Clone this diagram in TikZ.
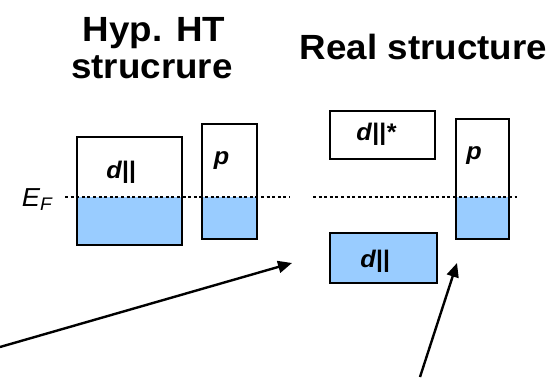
\documentclass[tikz,border=0pt]{standalone}
\usepackage{fontspec}
\usepackage{xcolor}
\usetikzlibrary{arrows.meta,backgrounds}

\newfontfamily\headfont[FakeStretch=1.05]{Liberation Sans}
\definecolor{occblue}{HTML}{99CCFF}

\tikzset{
  band/.style={draw, line width=1.6pt, inner sep=0pt},
  occ/.style={fill=occblue},
  fermi/.style={line width=2pt, dash pattern=on 3pt off 2.6pt},
  title/.style={anchor=base, inner sep=0pt, font=\headfont\bfseries\fontsize{35}{38}\selectfont},
  orb/.style={anchor=base, inner sep=0pt, font=\headfont\bfseries\itshape\fontsize{24}{26}\selectfont},
  hint/.style={line width=2.4pt, -{Triangle[length=14pt,width=12pt]}}
}

\begin{document}
\begin{tikzpicture}[x=1pt,y=-1pt]
				\useasboundingbox (0,0) rectangle (553,377);
				
				% headings
				\node[title] (hyp1) at (154,42) {Hyp. HT};
				\node[title] (hyp2) at (152,79) {strucrure};
				\node[title] (real) at (423.5,60) {Real structure};
				
				% bands: hypothetical HT picture
				\node[band, minimum width=105pt, minimum height=108pt] (hd) at (129.5,191) {};
				\node[band, minimum width=55pt, minimum height=115pt] (hp) at (229.5,181.5) {};
				
				% bands: real picture
				\node[band, minimum width=105pt, minimum height=48pt] (rdstar) at (382.5,135) {};
				\node[band, minimum width=53pt, minimum height=120pt] (rp) at (482.5,179) {};
				\node[band, occ, minimum width=107pt, minimum height=50pt] (rd) at (383.5,258) {};
				
				% Fermi level
				\coordinate (efa) at (65,197);
				\coordinate (efb) at (290,197);
				\coordinate (efc) at (313,197);
				\coordinate (efd) at (517,197);
				
				% occupied parts below E_F
				\begin{scope}[on background layer]
					\foreach \b in {hd,hp,rp}
					{
						\fill[occ] (\b.south west) rectangle (\b.east |- efa);
					}
				\end{scope}
				
				\draw[fermi] (efa) -- (efb);
				\draw[fermi] (efc) -- (efd);
				\node[inner sep=0pt, font=\headfont\itshape\fontsize{26}{28}\selectfont] (ef) at (37,200) {E\textsubscript{F}};
				
				% orbital labels
				\node[orb] (lhd) at (121,178) {d||};
				\node[orb] (lhp) at (221.5,164.5) {p};
				\node[orb] (lrdstar) at (376,140) {d||*};
				\node[orb] (lrp) at (474,159.5) {p};
				\node[orb] (lrd) at (375,267) {d||};
				
				% pointers
				\coordinate (a1) at (0,347);
				\coordinate (t1) at (292,263);
				\coordinate (a2) at (420,377);
				\coordinate (t2) at (457,263);
				\draw[hint] (a1) -- (t1);
				\draw[hint] (a2) -- (t2);
			\end{tikzpicture}
\end{document}
